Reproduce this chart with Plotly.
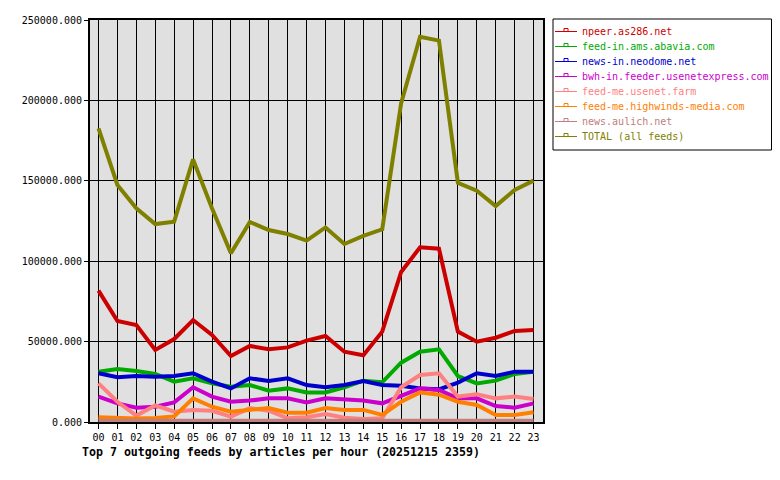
import plotly.graph_objects as go

hours = [f"{h:02d}" for h in range(24)]

names = ["npeer.as286.net", "feed-in.ams.abavia.com", "news-in.neodome.net",
         "bwh-in.feeder.usenetexpress.com", "feed-me.usenet.farm",
         "feed-me.highwinds-media.com", "news.aulich.net", "TOTAL (all feeds)"]
colors = ["#cc0000", "#00aa00", "#0000cc", "#cc00cc", "#ff8080", "#ff8000", "#c08080", "#808000"]

npeer = [81700, 62800, 60300, 44800, 51600, 63400, 54100, 41000, 47300, 45200, 46400, 50600,
         53500, 43700, 41500, 56200, 93300, 108600, 107800, 56200, 49900, 52400, 56600, 57200]
abavia = [31300, 33000, 31700, 29900, 25100, 27200, 24000, 22000, 23000, 19500, 20900, 18400,
          18400, 21600, 25700, 24700, 36900, 43700, 45200, 28600, 24000, 25700, 29900, 31300]
neodome = [30300, 27800, 28600, 28200, 28600, 30300, 25100, 20900, 27200, 25500, 27200, 23000,
           21600, 23000, 25500, 23000, 22600, 20900, 20300, 24500, 30300, 28600, 31300, 31300]
usenetexpress = [15800, 11600, 8900, 9500, 12200, 21600, 15800, 12600, 13300, 14700, 14700, 12200,
                 14700, 14100, 13300, 11600, 16200, 20900, 19900, 14700, 14700, 9950, 8900, 11600]
usenetfarm = [24000, 12600, 4000, 10300, 6400, 7500, 7000, 3300, 8600, 7000, 2300, 2900,
              4900, 2700, 1900, 2300, 21600, 29200, 30300, 15800, 17200, 14700, 15800, 14300]
highwinds = [2900, 2500, 2200, 2500, 3500, 14700, 9500, 6400, 7500, 8700, 5800, 5800,
             8700, 7500, 7500, 4400, 12600, 18400, 17000, 12600, 10600, 4400, 4400, 6000]
aulich = [700] * 24
total = [182600, 147400, 132900, 123100, 124600, 163300, 132900, 104900, 124400, 119400, 116900, 112800,
         121000, 110700, 115700, 119800, 198200, 239600, 237200, 148800, 143900, 134300, 144300, 150100]

series = [npeer, abavia, neodome, usenetexpress, usenetfarm, highwinds, aulich, total]
title_text = "Top 7 outgoing feeds by articles per hour (20251215 2359)"

FONT = "DejaVu Sans Mono"
fig = go.Figure()
xs = list(range(24))
for name, col, vals in zip(names, colors, series):
    fig.add_trace(go.Scatter(x=xs, y=vals, mode="lines", name=name,
                             line=dict(color=col, width=4), showlegend=False))

# custom legend
L, Wp, T, B = 90, 453, 20, 422
def px2x(px):
    return (px - L) / Wp
def py2y(py):
    return (B - py) / (B - T)

shapes = [dict(type="rect", xref="paper", yref="paper",
               x0=px2x(553), x1=px2x(771.5), y0=py2y(150), y1=py2y(19),
               line=dict(color="black", width=1), fillcolor="white")]
annotations = []
for i, (name, col) in enumerate(zip(names, colors)):
    yc = 31.5 + 15 * i
    shapes.append(dict(type="line", xref="paper", yref="paper",
                       x0=px2x(555), x1=px2x(577), y0=py2y(yc), y1=py2y(yc),
                       line=dict(color=col, width=1)))
    shapes.append(dict(type="rect", xref="paper", yref="paper",
                       x0=px2x(564), x1=px2x(568), y0=py2y(yc), y1=py2y(yc - 3),
                       line=dict(color=col, width=1), fillcolor="white"))
    annotations.append(dict(xref="paper", yref="paper", x=px2x(580), y=py2y(yc),
                            xanchor="left", yanchor="middle", showarrow=False,
                            text=name, font=dict(family=FONT, size=10, color=col)))

annotations.append(dict(xref="paper", yref="paper", x=px2x(80), y=py2y(452),
                        xanchor="left", yanchor="middle", showarrow=False,
                        text="<b>" + title_text + "</b>",
                        font=dict(family=FONT, size=11.6, color="black")))

fig.update_layout(
    width=780, height=480,
    margin=dict(l=90, r=237, t=20, b=58),
    paper_bgcolor="white", plot_bgcolor="#e0e0e0",
    font=dict(family=FONT, size=10, color="black"),
    shapes=shapes, annotations=annotations,
    showlegend=False,
)
fig.update_xaxes(range=[-0.45, 23.5], tickvals=xs, ticktext=hours,
                 showgrid=True, gridcolor="black", gridwidth=1,
                 ticks="outside", ticklen=5, tickcolor="black",
                 showline=True, linecolor="black", linewidth=2, mirror=True,
                 zeroline=False, tickfont=dict(family=FONT, size=10))
fig.update_yaxes(range=[0, 250000], tickvals=[0, 50000, 100000, 150000, 200000, 250000],
                 tickformat=".3f",
                 showgrid=True, gridcolor="black", gridwidth=1,
                 ticks="outside", ticklen=4, tickcolor="black",
                 showline=True, linecolor="black", linewidth=2, mirror=True,
                 zeroline=False, tickfont=dict(family=FONT, size=10))

fig.write_html("out.html")
